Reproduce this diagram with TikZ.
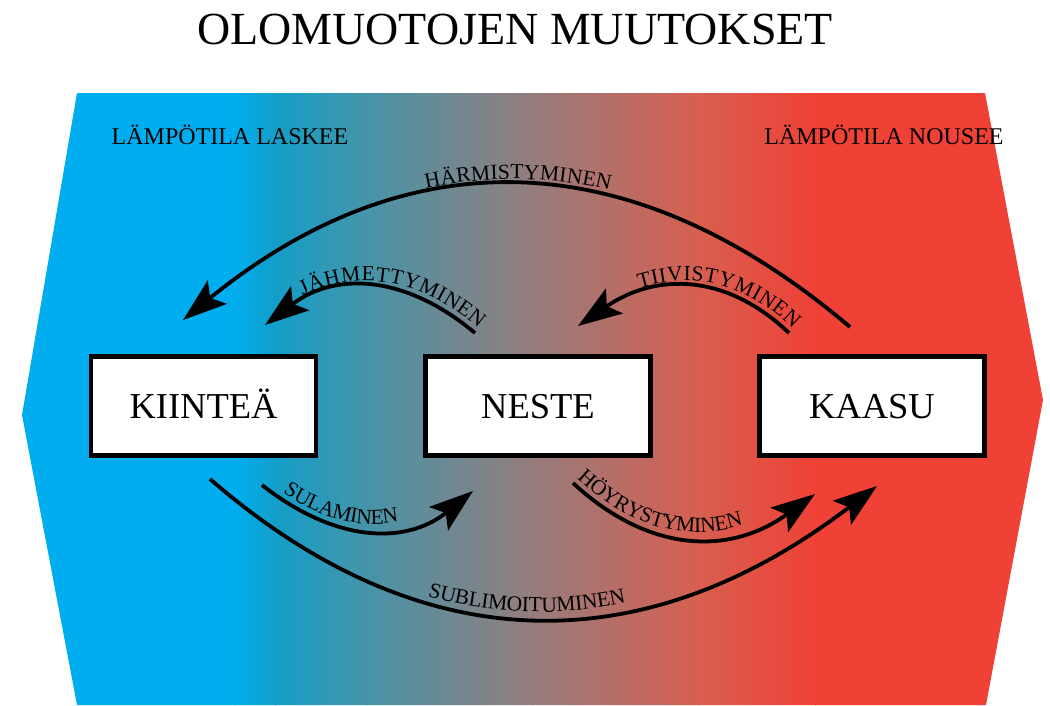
\documentclass[tikz,border=0pt]{standalone}
\usepackage{fontspec}
\setmainfont{Liberation Serif}
\usetikzlibrary{arrows.meta,decorations.text}
\definecolor{cA}{RGB}{0,174,239}
\definecolor{cB}{RGB}{20,158,200}
\definecolor{cC}{RGB}{70,148,168}
\definecolor{cD}{RGB}{150,125,125}
\definecolor{cE}{RGB}{215,95,80}
\definecolor{cF}{RGB}{239,65,54}
\newcommand{\arcfont}{\fontsize{21.5}{25}\selectfont}
\begin{document}
\begin{tikzpicture}[x=1pt,y=-1pt,
  box/.style={draw=black,line width=4.8pt,fill=white,minimum width=225pt,minimum height=99pt,
    inner sep=0pt,text height=24pt,text depth=0pt,font=\fontsize{36.5}{40}\selectfont},
  conn/.style={line width=3.8pt,-{Stealth[length=44pt,width=30pt,inset=9pt]}},
  lbl/.style={font=\fontsize{24}{28}\selectfont,anchor=base},
  arclabel/.style={decorate,decoration={text along path,raise=6pt,text={#1}}}
]
\useasboundingbox (0,0) rectangle (1050,705);
\begin{scope}
\clip (77,93) -- (22,415) -- (77,705) -- (986,705) -- (1043,400) -- (985,93) -- cycle;
\fill[cA] (0,80) rectangle (236,710);
\shade[left color=cA,right color=cB] (235,80) rectangle (276,710);
\shade[left color=cB,right color=cC] (275,80) rectangle (367,710);
\shade[left color=cC,right color=cD] (366,80) rectangle (533,710);
\shade[left color=cD,right color=cE] (532,80) rectangle (699,710);
\shade[left color=cE,right color=cF] (698,80) rectangle (816,710);
\fill[cF] (815,80) rectangle (1050,710);
\end{scope}

\node[font=\fontsize{46}{50}\selectfont,anchor=base] (title) at (515,44) {OLOMUOTOJEN MUUTOKSET};
\node[lbl] (cold) at (230,144) {LÄMPÖTILA LASKEE};
\node[lbl] (hot) at (884,144) {LÄMPÖTILA NOUSEE};

\node[box] (s) at (203.5,406) {KIINTEÄ};
\node[box] (l) at (538,406) {NESTE};
\node[box] (g) at (872,406) {KAASU};

% end points of the connectors
\coordinate (h1) at (850,327); \coordinate (h2) at (183,320);
\coordinate (j1) at (475,333); \coordinate (j2) at (265,325);
\coordinate (t1) at (789,333); \coordinate (t2) at (578,326);
\coordinate (u1) at (262,485); \coordinate (u2) at (473,491);
\coordinate (y1) at (573,483); \coordinate (y2) at (815,494);
\coordinate (b1) at (210,479); \coordinate (b2) at (877,486);

% HÄRMISTYMINEN
\draw[conn] (h1) .. controls (629.7,140) and (407.3,137.7) .. (h2);
\path[arclabel={|\arcfont|HÄRMISTYMINEN},decoration={text align=center}]
  (h2) .. controls (407.3,137.7) and (629.7,140) .. (h1);
% JÄHMETTYMINEN
\draw[conn] (j1) .. controls (405,274.3) and (335,271.7) .. (j2);
\path[arclabel={|\arcfont|JÄHMETTYMINEN},decoration={text align={right,right indent=0pt}}]
  (j2) .. controls (335,271.7) and (405,274.3) .. (j1);
% TIIVISTYMINEN
\draw[conn] (t1) .. controls (727.3,274) and (657,271.7) .. (t2);
\path[arclabel={|\arcfont|TIIVISTYMINEN},decoration={text align={right,right indent=0pt}}]
  (t2) .. controls (657,271.7) and (727.3,274) .. (t1);
% SULAMINEN
\draw[conn] (u1) .. controls (335.7,543) and (406,545) .. (u2);
\path[arclabel={|\arcfont|SULAMINEN},decoration={text align={left,left indent=22pt}}]
  (u1) .. controls (335.7,543) and (406,545) .. (u2);
% HÖYRYSTYMINEN
\draw[conn] (y1) .. controls (648.3,552.7) and (729,556.3) .. (y2);
\path[arclabel={|\arcfont|HÖYRYSTYMINEN},decoration={text align={left,left indent=0pt}}]
  (y1) .. controls (648.3,552.7) and (729,556.3) .. (y2);
% SUBLIMOITUMINEN
\draw[conn] (b1) .. controls (421,662) and (643.3,664.3) .. (b2);
\path[arclabel={|\arcfont|SUBLIMOITUMINEN},decoration={text align={center,right indent=30pt}}]
  (b1) .. controls (421,662) and (643.3,664.3) .. (b2);
\end{tikzpicture}
\end{document}
